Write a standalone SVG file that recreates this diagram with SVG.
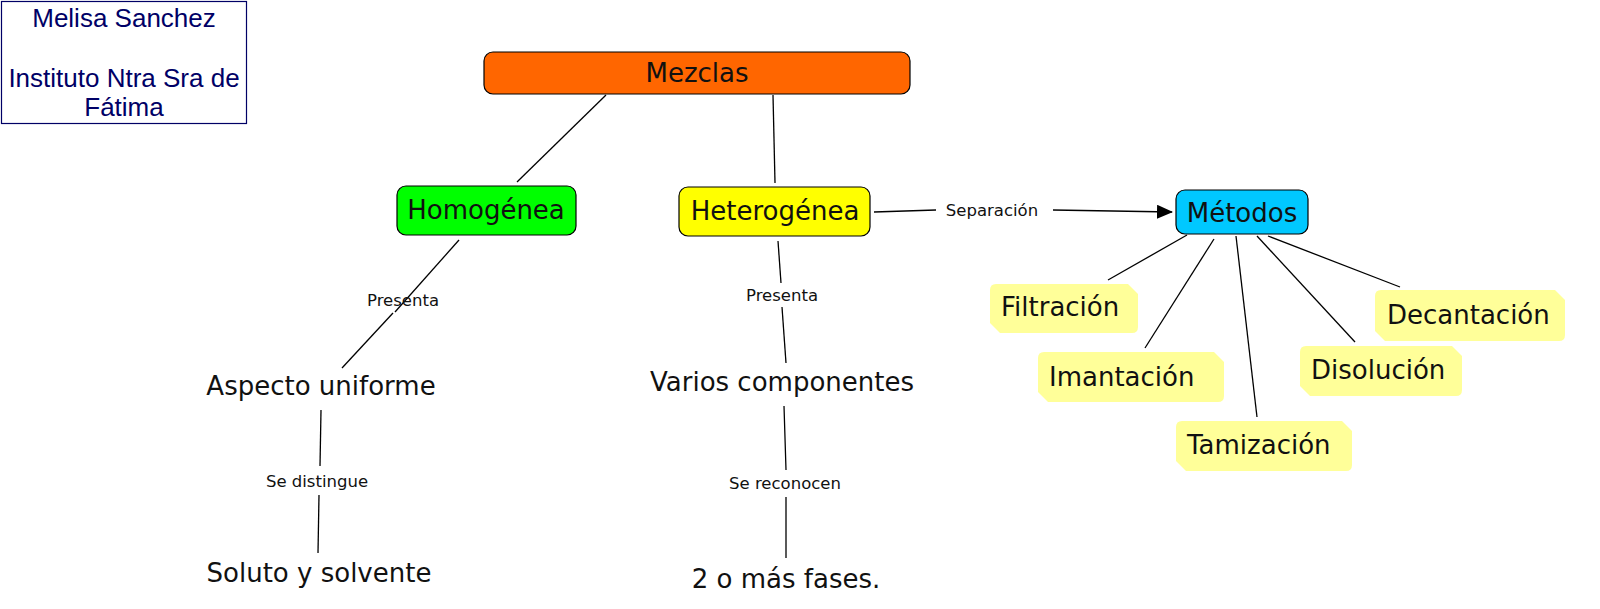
<svg xmlns="http://www.w3.org/2000/svg" width="1600" height="609" viewBox="0 0 1600 609">
<defs>
<style>
.c{fill:none;stroke:#000;stroke-width:1.3}
.box{stroke:#000;stroke-width:1.2}
.t{font-family:"DejaVu Sans",Verdana,sans-serif;font-size:26px;fill:#111;text-anchor:middle}
.tl{font-family:"DejaVu Sans",Verdana,sans-serif;font-size:26px;fill:#111}
.lab{font-family:"DejaVu Sans",Verdana,sans-serif;font-size:16.5px;fill:#111;text-anchor:middle}
.note{fill:#FFFF99}
.au{font-family:"Liberation Sans",Arial,sans-serif;font-size:26px;fill:#000066;text-anchor:middle}
</style>
<marker id="arr" markerWidth="16" markerHeight="14" refX="15" refY="7" orient="auto" markerUnits="userSpaceOnUse">
<path d="M0,0 L16,7 L0,14 Z" fill="#000"/>
</marker>
</defs>
<rect width="1600" height="609" fill="#fff"/>

<g id="author">
<rect x="1.5" y="1.5" width="245" height="122" fill="#fff" stroke="#000066" stroke-width="1.2"/>
<text class="au" x="124" y="27">Melisa Sanchez</text>
<text class="au" x="124" y="87">Instituto Ntra Sra de</text>
<text class="au" x="124" y="116">Fátima</text>
</g>

<g id="connectors">
<line class="c" x1="606" y1="95" x2="517" y2="182"/>
<line class="c" x1="773" y1="95" x2="775" y2="183"/>
<line class="c" x1="459" y1="240" x2="395" y2="312"/>
<line class="c" x1="393" y1="313" x2="342" y2="368"/>
<line class="c" x1="778" y1="241" x2="781" y2="283"/>
<line class="c" x1="782" y1="307" x2="786" y2="363"/>
<line class="c" x1="321" y1="410" x2="320" y2="466"/>
<line class="c" x1="319" y1="495" x2="318" y2="553"/>
<line class="c" x1="784" y1="406" x2="786" y2="470"/>
<line class="c" x1="786" y1="497" x2="786" y2="558"/>
<line class="c" x1="874" y1="212" x2="936" y2="210"/>
<line class="c" x1="1053" y1="210" x2="1172" y2="212" marker-end="url(#arr)"/>
<line class="c" x1="1187" y1="235" x2="1108" y2="280"/>
<line class="c" x1="1214" y1="239" x2="1145" y2="348"/>
<line class="c" x1="1236" y1="236" x2="1257" y2="417"/>
<line class="c" x1="1257" y1="236" x2="1355" y2="342"/>
<line class="c" x1="1268" y1="236" x2="1400" y2="287"/>
<text class="lab" x="403" y="306">Presenta</text>
<text class="lab" x="782" y="301">Presenta</text>
<text class="lab" x="317" y="487">Se distingue</text>
<text class="lab" x="785" y="489">Se reconocen</text>
<text class="lab" x="992" y="216">Separación</text>
</g>

<g id="mezclas">
<rect class="box" x="484" y="52" width="426" height="42" rx="9" fill="#FF6600"/>
<text class="t" x="697" y="82">Mezclas</text>
</g>
<g id="homogenea">
<rect class="box" x="397" y="186" width="179" height="49" rx="9" fill="#00FF00"/>
<text class="t" x="486" y="219">Homogénea</text>
</g>
<g id="heterogenea">
<rect class="box" x="679" y="187" width="191" height="49" rx="9" fill="#FFFF00"/>
<text class="t" x="775" y="220">Heterogénea</text>
</g>
<g id="metodos">
<rect class="box" x="1176" y="190" width="132" height="44" rx="9" fill="#00C8FF"/>
<text class="t" x="1242" y="222">Métodos</text>
</g>

<g id="aspecto"><text class="t" x="321" y="395">Aspecto uniforme</text></g>
<g id="soluto"><text class="t" x="319" y="582">Soluto y solvente</text></g>
<g id="varios"><text class="t" x="782" y="391">Varios componentes</text></g>
<g id="fases"><text class="t" x="786" y="588">2 o más fases.</text></g>

<g id="filtracion">
<path class="note" d="M996,284 L1128,284 L1138,294 L1138,327 Q1138,333 1132,333 L1000,333 L990,323 L990,290 Q990,284 996,284 Z"/>
<text class="tl" x="1001" y="316">Filtración</text>
</g>
<g id="imantacion">
<path class="note" d="M1044,352 L1214,352 L1224,362 L1224,396 Q1224,402 1218,402 L1048,402 L1038,392 L1038,358 Q1038,352 1044,352 Z"/>
<text class="tl" x="1049" y="386">Imantación</text>
</g>
<g id="tamizacion">
<path class="note" d="M1182,421 L1342,421 L1352,431 L1352,465 Q1352,471 1346,471 L1186,471 L1176,461 L1176,427 Q1176,421 1182,421 Z"/>
<text class="tl" x="1187" y="454">Tamización</text>
</g>
<g id="disolucion">
<path class="note" d="M1306,346 L1452,346 L1462,356 L1462,390 Q1462,396 1456,396 L1310,396 L1300,386 L1300,352 Q1300,346 1306,346 Z"/>
<text class="tl" x="1311" y="379">Disolución</text>
</g>
<g id="decantacion">
<path class="note" d="M1381,290 L1555,290 L1565,300 L1565,335 Q1565,341 1559,341 L1385,341 L1375,331 L1375,296 Q1375,290 1381,290 Z"/>
<text class="tl" x="1387" y="324">Decantación</text>
</g>
</svg>
